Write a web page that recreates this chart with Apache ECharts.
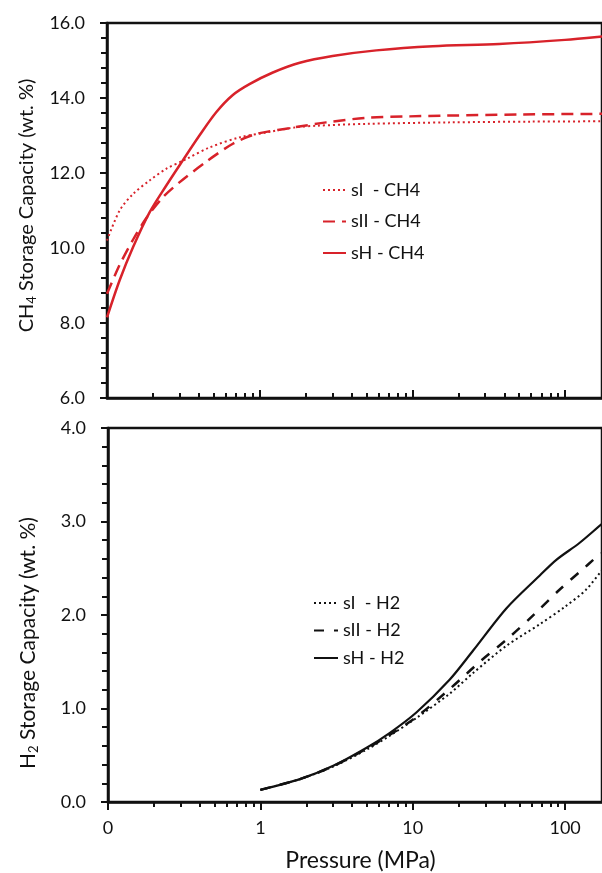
<!DOCTYPE html>
<html>
<head>
<meta charset="utf-8">
<script src="https://cdn.jsdelivr.net/npm/echarts@6/dist/echarts.min.js"></script>
<style>
    html, body { margin: 0; padding: 0; background: #fff; }
    #chart { width: 602px; height: 873px; }
</style>
</head>
<body>
<div id="chart"></div>
<script>
// tick positions on the log pressure axis (the plot is cut at the right edge)
const pressureMax = 174.5;
const pressureMajor = [0.1, 1, 10, 100];
const pressureMinor = [0.2, 0.3, 0.4, 0.5, 0.6, 0.7, 0.8, 0.9,
    2, 3, 4, 5, 6, 7, 8, 9, 20, 30, 40, 50, 60, 70, 80, 90];

// CH4 storage capacity (wt. %) vs pressure (MPa)
const ch4SIp = [0.1, 0.121, 0.148, 0.19, 0.244, 0.33, 0.469, 0.738, 1.1, 1.73, 2.35, 5, 17.5, 60, 200];
const ch4SI = [10.2, 11.0, 11.44, 11.8, 12.11, 12.37, 12.68, 12.95, 13.08, 13.22, 13.26, 13.31, 13.35, 13.37, 13.38];
const ch4SIIp = [0.1, 0.121, 0.148, 0.181, 0.232, 0.298, 0.447, 0.667, 0.948, 1.49, 2.72, 4.98, 9.6, 16.6, 50, 200];
const ch4SII = [8.78, 9.55, 10.22, 10.8, 11.35, 11.75, 12.3, 12.78, 13.04, 13.18, 13.35, 13.47, 13.51, 13.53, 13.56, 13.58];
const ch4SHp = [0.1, 0.121, 0.148, 0.19, 0.244, 0.313, 0.403, 0.519, 0.667, 0.857, 1.22, 1.83, 3.0, 5.8, 13.6, 37, 100, 174, 200];
const ch4SH = [8.15, 9.14, 10.02, 10.95, 11.66, 12.33, 13.0, 13.62, 14.08, 14.37, 14.68, 14.94, 15.12, 15.27, 15.38, 15.44, 15.55, 15.64, 15.67];

// H2 storage capacity (wt. %) vs pressure (MPa)
const h2SIp = [1, 1.82, 3.01, 4.98, 7.08, 10.6, 17.5, 24.9, 41.1, 67.9, 100, 137, 173, 200];
const h2SI = [0.13, 0.245, 0.38, 0.56, 0.71, 0.9, 1.16, 1.38, 1.67, 1.9, 2.09, 2.27, 2.47, 2.58];
const h2SIIp = [1, 1.82, 3.01, 4.98, 7.08, 10.6, 17.5, 22.5, 27.5, 42.2, 63, 91.8, 137, 164, 200];
const h2SII = [0.13, 0.245, 0.385, 0.57, 0.72, 0.91, 1.21, 1.37, 1.5, 1.75, 2.01, 2.27, 2.52, 2.63, 2.72];
const h2SHp = [1, 1.82, 3.01, 4.98, 7.08, 10.6, 17.5, 24.9, 41.1, 67.9, 87.5, 124, 173, 200];
const h2SH = [0.13, 0.245, 0.387, 0.58, 0.74, 0.96, 1.31, 1.62, 2.07, 2.42, 2.59, 2.77, 2.97, 3.05];

const font = 'Lato';
const red = '#d8222a';
const black = '#111';

function pairs(xs, ys) {
    return xs.map((x, i) => [x, ys[i]]);
}

function line(name, xs, ys, color, dash, width, axisIdx) {
    return {
        name: name,
        type: 'line',
        xAxisIndex: axisIdx,
        yAxisIndex: axisIdx,
        data: pairs(xs, ys),
        smooth: 0.3,
        clip: true,
        symbol: 'none',
        showSymbol: false,
        animation: false,
        lineStyle: { color: color, width: width, type: dash },
        itemStyle: { color: color }
    };
}

function majorX(grid, inside, labels) {
    return {
        type: 'log', gridIndex: grid, min: 0.1, max: pressureMax, logBase: 10,
        position: 'bottom',
        name: labels ? 'Pressure (MPa)' : '',
        nameLocation: 'middle', nameGap: 47,
        nameTextStyle: { fontFamily: font, fontSize: 23, color: black, padding: [0, 0, 0, 11] },
        axisLine: { show: true, lineStyle: { color: black, width: 2.5 } },
        axisTick: { show: true, inside: inside, length: 8, customValues: pressureMajor,
            lineStyle: { color: black, width: 2 } },
        axisLabel: { show: labels, customValues: pressureMajor, margin: 17,
            fontFamily: font, fontSize: 18, color: black,
            formatter: v => (v < 1 ? '0' : String(v)) },
        splitLine: { show: false }
    };
}

function minorX(grid, inside) {
    return {
        type: 'log', gridIndex: grid, min: 0.1, max: pressureMax, logBase: 10,
        position: 'bottom',
        axisLine: { show: false },
        axisTick: { show: true, inside: inside, length: 5, customValues: pressureMinor,
            lineStyle: { color: black, width: 2 } },
        axisLabel: { show: false },
        splitLine: { show: false }
    };
}

function yAxis(grid, min, max, interval, name, size, pad) {
    return {
        type: 'value', gridIndex: grid, min: min, max: max, interval: interval,
        name: name,
        nameLocation: 'middle', nameGap: 68,
        nameTextStyle: {
            color: black,
            padding: pad,
            rich: {
                a: { fontFamily: font, fontSize: size, lineHeight: size + 3, color: black },
                s: { fontFamily: font, fontSize: 13, lineHeight: 12, verticalAlign: 'bottom', color: black }
            }
        },
        axisLine: { show: true, lineStyle: { color: black, width: 2.5 } },
        axisTick: { show: true, length: 7, lineStyle: { color: black, width: 2 } },
        minorTick: { show: true, splitNumber: 5, length: 6, lineStyle: { color: black, width: 2 } },
        axisLabel: { margin: 22, fontFamily: font, fontSize: 18, color: black,
            formatter: v => v.toFixed(1) },
        splitLine: { show: false }
    };
}

const chart = echarts.init(document.getElementById('chart'));

chart.setOption({
    backgroundColor: '#fff',
    animation: false,
    grid: [
        { left: 107, right: 0, top: 23, height: 375, show: true, borderColor: black, borderWidth: 2.5 },
        { left: 108, right: 0, top: 428, height: 375, show: true, borderColor: black, borderWidth: 2.5 }
    ],
    xAxis: [
        majorX(0, true, false),
        majorX(1, false, true),
        minorX(0, true),
        minorX(1, false)
    ],
    yAxis: [
        yAxis(0, 6, 16, 2, '{a|CH}{s|4}{a| Storage Capacity (wt. %)}', 20, [0, 0, 0, 10]),
        yAxis(1, 0, 4, 1, '{a|H}{s|2}{a| Storage Capacity (wt. %)}', 21, [0, 56, 0, 0])
    ],
    legend: [
        {
            data: ['sI  - CH4', 'sII - CH4', 'sH - CH4'],
            orient: 'vertical', left: 317, top: 176,
            itemWidth: 23, itemHeight: 14, itemGap: 13.5,
            itemStyle: { opacity: 0 },
            textStyle: { fontFamily: font, fontSize: 18, color: black }
        },
        {
            data: ['sI  - H2', 'sII - H2', 'sH - H2'],
            orient: 'vertical', left: 308, top: 589,
            itemWidth: 24, itemHeight: 14, itemGap: 9.5,
            itemStyle: { opacity: 0 },
            textStyle: { fontFamily: font, fontSize: 18, color: black }
        }
    ],
    series: [
        line('sI  - CH4', ch4SIp, ch4SI, red, [2, 3], 2, 0),
        line('sII - CH4', ch4SIIp, ch4SII, red, [12, 7], 2.5, 0),
        line('sH - CH4', ch4SHp, ch4SH, red, 'solid', 2.5, 0),
        line('sI  - H2', h2SIp, h2SI, black, [2, 3], 2, 1),
        line('sII - H2', h2SIIp, h2SII, black, [10, 10], 2.5, 1),
        line('sH - H2', h2SHp, h2SH, black, 'solid', 2.2, 1)
    ]
});
</script>
</body>
</html>
